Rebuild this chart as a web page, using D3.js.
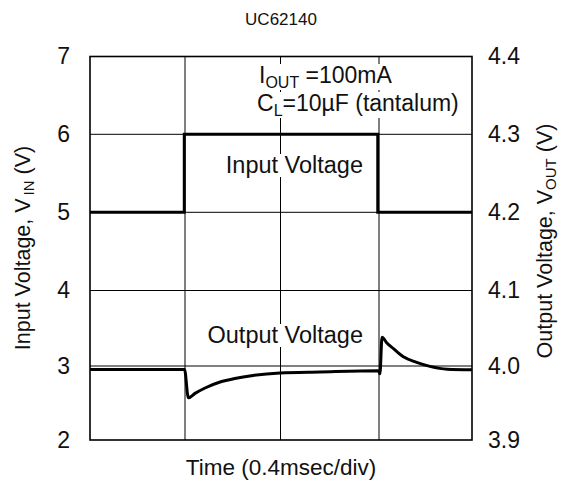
<!DOCTYPE html>
<html><head><meta charset="utf-8">
<script src="https://cdn.jsdelivr.net/npm/d3@7"></script>
<style>
body{margin:0;background:#fff;}
svg text{font-family:"Liberation Sans",Arial,sans-serif;fill:#111;}
</style></head>
<body><svg id="c" width="564" height="492"></svg>
<script>
// Data
const title = "UC62140";
const xTicks = [0, 0.4, 0.8, 1.2, 1.6];            // ms, 0.4 ms/div
const leftTicks = [2, 3, 4, 5, 6, 7];               // V_IN
const leftTickLabels = ["2", "3", "4", "5", "6", "7"];
const rightTicks = [3.9, 4.0, 4.1, 4.2, 4.3, 4.4];  // V_OUT
const rightTickLabels = ["3.9", "4.0", "4.1", "4.2", "4.3", "4.4"];
const timeIn = [0, 0.397, 0.397, 1.195, 1.195, 1.6];
const vIn = [5, 5, 6, 6, 5, 5];
const timeOut = [0, 0.398, 0.414, 0.442, 0.484, 0.547, 0.609, 0.685, 0.798, 0.960, 1.198, 1.204, 1.213, 1.234, 1.262, 1.303, 1.362, 1.419, 1.493, 1.6];
const vOut = [3.9953, 3.9953, 3.957, 3.963, 3.9703, 3.9784, 3.9832, 3.9872, 3.9905, 3.9919, 3.9935, 3.9895, 4.0381, 4.0305, 4.0229, 4.0125, 4.0048, 3.9995, 3.9957, 3.9950];

const svg = d3.select("#c");
const x = d3.scaleLinear().domain(xTicks).range([90, 185, 280.5, 379, 472]);
const yIn = d3.scaleLinear().domain(leftTicks).range([440, 366, 290.5, 212.3, 134.3, 56.5]);
const yOut = d3.scaleLinear().domain(rightTicks).range([440, 366, 290.5, 212.3, 134.3, 56.5]);

// grid
const g = svg.append("g");
g.selectAll(".vg").data(xTicks.slice(1, -1)).join("line")
  .attr("x1", d => x(d)).attr("x2", d => x(d)).attr("y1", yIn(7)).attr("y2", yIn(2))
  .attr("stroke", "#000").attr("stroke-width", 1);
g.selectAll(".hg").data(leftTicks.slice(1, -1)).join("line")
  .attr("x1", x(0)).attr("x2", x(1.6)).attr("y1", d => yIn(d)).attr("y2", d => yIn(d))
  .attr("stroke", "#000").attr("stroke-width", 1);

// in-plot texts with white background
const txt = svg.append("g");
function boxed(sel) {
  const b = sel.node().getBBox();
  txt.insert("rect", ":first-child").attr("x", b.x).attr("y", b.y + 2).attr("width", b.width).attr("height", b.height - 3).attr("fill", "#fff");
}
const t1 = txt.append("text").attr("x", 259).attr("y", 83).attr("font-size", 23);
t1.append("tspan").text("I");
t1.append("tspan").attr("font-size", 16).attr("dy", 5).text("OUT");
t1.append("tspan").attr("dy", -5).text(" =100mA");
const t2 = txt.append("text").attr("x", 257).attr("y", 111).attr("font-size", 23);
t2.append("tspan").text("C");
t2.append("tspan").attr("font-size", 16).attr("dy", 5).text("L");
t2.append("tspan").attr("dy", -5).text("=10µF (tantalum)");
const t3 = txt.append("text").attr("x", 363).attr("y", 173).attr("font-size", 23.5).attr("text-anchor", "end").text("Input Voltage");
const t4 = txt.append("text").attr("x", 363).attr("y", 343).attr("font-size", 23.5).attr("text-anchor", "end").text("Output Voltage");
[t1, t2, t3, t4].forEach(boxed);

// frame
svg.append("rect").attr("x", x(0)).attr("y", yIn(7)).attr("width", x(1.6) - x(0)).attr("height", yIn(2) - yIn(7))
  .attr("fill", "none").attr("stroke", "#000").attr("stroke-width", 1.6);

// lines
const lineIn = d3.line().x(d => x(d[0])).y(d => yIn(d[1]));
svg.append("path").datum(timeIn.map((t, i) => [t, vIn[i]])).attr("d", lineIn)
  .attr("fill", "none").attr("stroke", "#000").attr("stroke-width", 3);
const lineOut = d3.line().x(d => x(d[0])).y(d => yOut(d[1])).curve(d3.curveMonotoneX);
svg.append("path").datum(timeOut.map((t, i) => [t, vOut[i]])).attr("d", lineOut)
  .attr("fill", "none").attr("stroke", "#000").attr("stroke-width", 3).attr("stroke-linejoin", "round");

// axes
const axL = svg.append("g").attr("transform", `translate(${x(0) - 17},0)`)
  .call(d3.axisLeft(yIn).tickValues(leftTicks).tickFormat((d, i) => leftTickLabels[i]).tickSize(0));
axL.select(".domain").remove();
axL.selectAll("text").attr("font-size", 23).attr("font-family", "Liberation Sans, Arial, sans-serif").attr("fill", "#111");
const axR = svg.append("g").attr("transform", `translate(${x(1.6) + 13},0)`)
  .call(d3.axisRight(yOut).tickValues(rightTicks).tickFormat((d, i) => rightTickLabels[i]).tickSize(0));
axR.select(".domain").remove();
axR.selectAll("text").attr("font-size", 23).attr("font-family", "Liberation Sans, Arial, sans-serif").attr("fill", "#111");

// titles
svg.append("text").attr("x", 281).attr("y", 25).attr("text-anchor", "middle").attr("font-size", 17).text(title);
svg.append("text").attr("x", 281).attr("y", 475).attr("text-anchor", "middle").attr("font-size", 22.5).text("Time (0.4msec/div)");
const lt = svg.append("text").attr("transform", "translate(30,248) rotate(-90)").attr("text-anchor", "middle").attr("font-size", 21.5);
lt.append("tspan").text("Input Voltage, V");
lt.append("tspan").attr("font-size", 15).attr("dy", 4).attr("dx", 3).text("IN");
lt.append("tspan").attr("dy", -4).text(" (V)");
const rt = svg.append("text").attr("transform", "translate(552,241) rotate(-90)").attr("text-anchor", "middle").attr("font-size", 21.5);
rt.append("tspan").text("Output Voltage,  V");
rt.append("tspan").attr("font-size", 15).attr("dy", 4).text("OUT");
rt.append("tspan").attr("dy", -4).text(" (V)");
</script></body></html>
